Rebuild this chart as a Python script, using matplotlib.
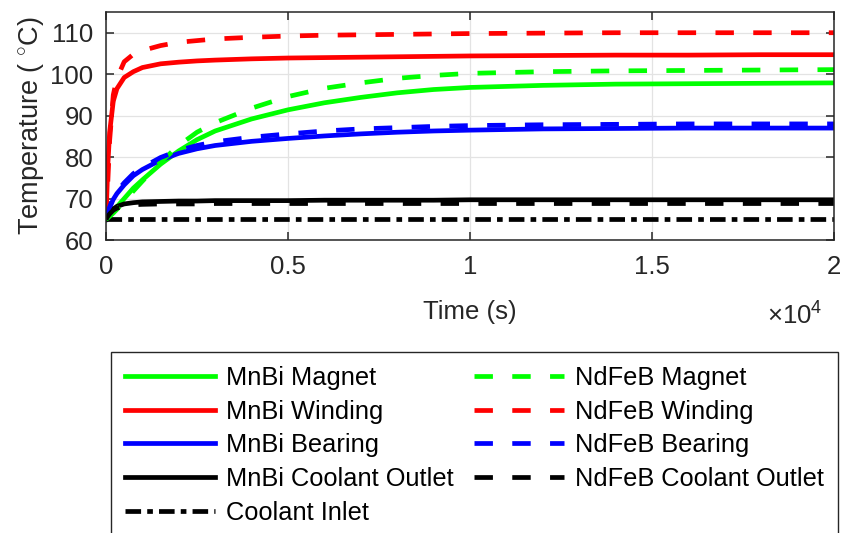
import matplotlib
matplotlib.use("Agg")
import matplotlib.pyplot as plt
from matplotlib.ticker import FuncFormatter, FixedLocator

plt.rcParams["font.family"] = ["Liberation Sans", "DejaVu Sans"]
plt.rcParams["mathtext.fontset"] = "custom"
plt.rcParams["mathtext.rm"] = "Liberation Sans"

# time samples (s)
time_s = [0, 50, 100, 200, 300, 500, 750, 1000, 1500, 2000, 2500, 3000, 4000,
          5000, 6000, 7000, 8000, 9000, 10000, 12000, 14000, 16000, 18000, 20000]

# temperatures (deg C)
mnbi_magnet = [65, 65.5, 66, 67, 68, 70, 72.5, 74.5, 78.3, 81.5, 84.2, 86.3, 89.2,
               91.4, 93.1, 94.4, 95.5, 96.3, 96.8, 97.3, 97.6, 97.7, 97.8, 97.9]
mnbi_winding = [65, 78, 86, 93.5, 96.5, 99.2, 100.6, 101.6, 102.5, 102.9, 103.2, 103.4, 103.7,
                103.9, 104.0, 104.1, 104.2, 104.3, 104.4, 104.5, 104.6, 104.6, 104.7, 104.7]
mnbi_bearing = [65, 66.5, 67.8, 69.8, 71.2, 73.3, 75.5, 77.0, 79.3, 80.9, 82.0, 82.8, 83.8,
                84.5, 85.1, 85.6, 86.0, 86.3, 86.5, 86.8, 86.9, 87.0, 87.0, 87.0]
mnbi_outlet = [65, 65.8, 66.5, 67.5, 68.1, 68.7, 69.0, 69.2, 69.3, 69.4, 69.4, 69.5, 69.5,
               69.5, 69.6, 69.6, 69.6, 69.6, 69.7, 69.7, 69.7, 69.7, 69.7, 69.7]
coolant_inlet = [65] * 24
ndfeb_magnet = [65, 65.3, 65.7, 66.5, 67.4, 69.3, 71.8, 74.2, 78.8, 82.8, 86.0, 88.3, 91.8,
                94.6, 96.6, 97.9, 99.0, 99.7, 100.2, 100.6, 100.8, 100.9, 101.0, 101.1]
ndfeb_winding = [65, 74, 84, 95, 99.0, 103.0, 104.8, 105.7, 106.9, 107.7, 108.1, 108.5, 108.9,
                 109.2, 109.4, 109.5, 109.6, 109.7, 109.8, 109.9, 110.0, 110.0, 110.0, 110.0]
ndfeb_bearing = [65, 66.6, 68.0, 70.2, 71.7, 73.8, 76.0, 77.5, 79.9, 81.6, 82.8, 83.7, 84.8,
                 85.6, 86.3, 86.8, 87.1, 87.4, 87.6, 87.8, 87.9, 88.0, 88.0, 88.0]
ndfeb_outlet = [65, 65.7, 66.3, 67.2, 67.7, 68.2, 68.5, 68.6, 68.7, 68.7, 68.7, 68.8, 68.8,
                68.8, 68.8, 68.8, 68.8, 68.8, 68.8, 68.8, 68.8, 68.8, 68.8, 68.8]

x_ticks = [0, 5000, 10000, 15000, 20000]
y_ticks = [60, 70, 80, 90, 100, 110]

fig = plt.figure(figsize=(8.41, 5.33), dpi=100)
ax = fig.add_axes([106 / 841, 1 - 240 / 533, 728 / 841, 228 / 533])

lw = 3.4
dash = (0, (3.9, 4.1))
dashdot = (0, (3.3, 1.3, 1.2, 1.3))
fs = 18.5

h1, = ax.plot(time_s, mnbi_magnet, color=(0, 1, 0), lw=lw, label="MnBi Magnet")
h2, = ax.plot(time_s, mnbi_winding, color=(1, 0, 0), lw=lw, label="MnBi Winding")
h3, = ax.plot(time_s, mnbi_bearing, color=(0, 0, 1), lw=lw, label="MnBi Bearing")
h4, = ax.plot(time_s, mnbi_outlet, color="k", lw=lw, label="MnBi Coolant Outlet")
h5, = ax.plot(time_s, coolant_inlet, color="k", lw=lw, ls=dashdot, label="Coolant Inlet")
h6, = ax.plot(time_s, ndfeb_magnet, color=(0, 1, 0), lw=lw, ls=dash, label="NdFeB Magnet")
h7, = ax.plot(time_s, ndfeb_winding, color=(1, 0, 0), lw=lw, ls=dash, label="NdFeB Winding")
h8, = ax.plot(time_s, ndfeb_bearing, color=(0, 0, 1), lw=lw, ls=dash, label="NdFeB Bearing")
h9, = ax.plot(time_s, ndfeb_outlet, color="k", lw=lw, ls=dash, label="NdFeB Coolant Outlet")

ax.set_xlim(0, 20000)
ax.set_ylim(60, 115)
ax.xaxis.set_major_locator(FixedLocator(x_ticks))
ax.yaxis.set_major_locator(FixedLocator(y_ticks))
ax.xaxis.set_major_formatter(FuncFormatter(lambda v, p: f"{v / 1e4:g}"))
ax.grid(True, color="#e3e3e3", lw=0.9)
ax.set_axisbelow(True)
for s in ax.spines.values():
    s.set_color("#262626")
    s.set_linewidth(1.1)
ax.tick_params(direction="in", length=6, width=1.1, colors="#262626",
               top=True, right=True, labelsize=fs, labelcolor="#262626")
ax.tick_params(axis="x", pad=11)
ax.tick_params(axis="y", pad=9)

ax.set_xlabel("Time (s)", fontsize=fs, color="#262626", labelpad=15)
ax.set_ylabel("Temperature ( $^{\\circ}$C)", fontsize=19.5, color="#262626", labelpad=3)

fig.text(822 / 841, 1 - 325 / 533, "$\\times\\mathregular{10^{4}}$", fontsize=fs,
         color="#262626", ha="right", va="baseline")

handles = [h1, h2, h3, h4, h5, h6, h7, h8, h9]
leg = fig.legend(handles=handles, ncol=2, loc="upper left",
                 bbox_to_anchor=(111 / 841, 1 - 352 / 533),
                 fontsize=18.3, frameon=True, fancybox=False, framealpha=1,
                 edgecolor="#262626", handlelength=3.55, handletextpad=0.43,
                 columnspacing=0.8, labelspacing=0.38, borderpad=0.55,
                 borderaxespad=0)
leg.get_frame().set_linewidth(1.0)

fig.savefig("out.png", dpi=100)
